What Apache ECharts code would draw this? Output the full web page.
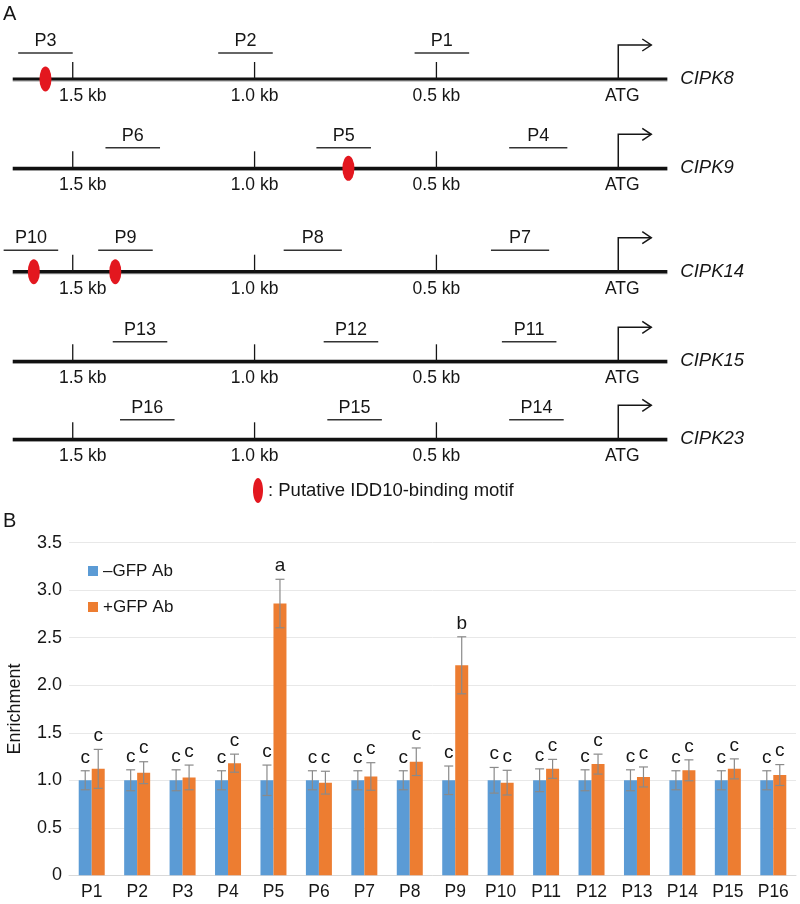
<!DOCTYPE html>
<html><head><meta charset="utf-8">
<script src="https://cdn.jsdelivr.net/npm/echarts@6/dist/echarts.min.js"></script>
<style>html,body{margin:0;padding:0;background:#fff}#chart{width:800px;height:904px}</style>
</head><body><div id="chart"></div>
<script>
// ---------- Panel A data (positions in kb upstream of ATG) ----------
const genes = ['CIPK8', 'CIPK9', 'CIPK14', 'CIPK15', 'CIPK23'];
const primerNames = [['P3','P2','P1'], ['P6','P5','P4'], ['P10','P9','P8','P7'], ['P13','P12','P11'], ['P16','P15','P14']];
const primerFrom = [[1.65,1.10,0.56], [1.41,0.83,0.30], [1.69,1.43,0.92,0.35], [1.39,0.81,0.32], [1.37,0.80,0.30]];
const primerTo   = [[1.50,0.95,0.41], [1.26,0.68,0.14], [1.54,1.28,0.76,0.19], [1.24,0.66,0.17], [1.22,0.65,0.15]];
const motifSites = [[1.575], [0.742], [1.607,1.383], [], []];
const promoterSpan = [1.665, -0.135];
const scaleTicks = [1.5, 1.0, 0.5];
const scaleLabels = ['1.5 kb', '1.0 kb', '0.5 kb'];
const atgPos = 0;
const atgLabel = 'ATG';
const motifLegend = ': Putative IDD10-binding motif';

// ---------- Panel B data ----------
const probes = ['P1','P2','P3','P4','P5','P6','P7','P8','P9','P10','P11','P12','P13','P14','P15','P16'];
const minusGFP = [1.00,1.00,1.00,1.00,1.00,1.00,1.00,1.00,1.00,1.00,1.00,1.00,1.00,1.00,1.00,1.00];
const minusErr = [0.10,0.11,0.11,0.10,0.16,0.10,0.10,0.10,0.15,0.135,0.12,0.11,0.11,0.10,0.10,0.10];
const plusGFP  = [1.12,1.08,1.03,1.18,2.86,0.975,1.04,1.195,2.21,0.975,1.12,1.17,1.035,1.105,1.12,1.055];
const plusErr  = [0.205,0.115,0.13,0.095,0.255,0.12,0.145,0.145,0.30,0.13,0.10,0.105,0.105,0.11,0.105,0.11];
const minusLetters = ['c','c','c','c','c','c','c','c','c','c','c','c','c','c','c','c'];
const plusLetters  = ['c','c','c','c','a','c','c','c','b','c','c','c','c','c','c','c'];
const seriesNames = ['\u2013GFP Ab', '+GFP Ab'];
const yTicks = { min: 0, max: 3.5, interval: 0.5 };

// ---------- layout / style ----------
const FONT = 'Liberation Sans, Arial, Helvetica, sans-serif';
const rowLineY = [79, 168.3, 271.7, 361.3, 439.3];
const primerLift = [26, 20.5, 21.5, 19.5, 19.5];
const tickLabelDx = [10, 0, 0];
const INK = '#161616';
const RED = '#e3171f';
const BLUE = '#5b9bd5';
const ORANGE = '#ed7d31';

const grids = [], xAxes = [], yAxes = [], series = [];

genes.forEach((g, r) => {
  grids.push({ left: 0, width: 691, top: rowLineY[r] - 10, height: 10, outerBoundsMode: 'none' });
  xAxes.push({ gridIndex: r, type: 'value', min: -0.2, max: 1.7, inverse: true, show: false });
  yAxes.push({ gridIndex: r, type: 'value', min: 0, max: 1, show: false });

  // promoter line, ATG arrow, gene name
  series.push({
    type: 'custom', xAxisIndex: r, yAxisIndex: r, clip: false, silent: true,
    data: [[promoterSpan[0], promoterSpan[1], atgPos]],
    encode: { x: [0, 1] },
    renderItem: (params, api) => {
      const a = api.coord([api.value(0), 0]);
      const b = api.coord([api.value(1), 0]);
      const t = api.coord([api.value(2), 0]);
      const top = t[1] - 34, tip = t[0] + 33;
      return { type: 'group', children: [
        { type: 'line', shape: { x1: a[0], y1: a[1] + 2, x2: b[0], y2: b[1] + 2 }, style: { stroke: '#9a9a9a', lineWidth: 1.2 } },
        { type: 'line', shape: { x1: a[0], y1: a[1], x2: b[0], y2: b[1] }, style: { stroke: '#111', lineWidth: 3.2 } },
        { type: 'polyline', shape: { points: [[t[0], t[1]], [t[0], top], [tip, top]] }, style: { stroke: INK, lineWidth: 1.5, fill: null } },
        { type: 'polyline', shape: { points: [[tip - 9, top - 6], [tip, top], [tip - 9, top + 6]] }, style: { stroke: INK, lineWidth: 1.5, fill: null } },
        { type: 'text', x: t[0] + 4, y: t[1] + 17, style: { text: atgLabel, font: '17.5px ' + FONT, fill: INK, align: 'center', verticalAlign: 'middle' } },
        { type: 'text', x: b[0] + 13, y: b[1], style: { text: g, font: 'italic 18.5px ' + FONT, fill: INK, align: 'left', verticalAlign: 'middle' } }
      ] };
    }
  });

  // scale ticks
  series.push({
    type: 'custom', xAxisIndex: r, yAxisIndex: r, clip: false, silent: true,
    data: scaleTicks.map(v => [v]),
    encode: { x: 0 },
    renderItem: (params, api) => {
      const p = api.coord([api.value(0), 0]);
      const k = params.dataIndex;
      return { type: 'group', children: [
        { type: 'line', shape: { x1: p[0], y1: p[1], x2: p[0], y2: p[1] - 17 }, style: { stroke: INK, lineWidth: 1.3 } },
        { type: 'text', x: p[0] + tickLabelDx[k], y: p[1] + 17, style: { text: scaleLabels[k], font: '17.5px ' + FONT, fill: INK, align: 'center', verticalAlign: 'middle' } }
      ] };
    }
  });

  // primers
  series.push({
    type: 'custom', xAxisIndex: r, yAxisIndex: r, clip: false, silent: true,
    data: primerFrom[r].map((f, k) => [f, primerTo[r][k]]),
    encode: { x: [0, 1] },
    renderItem: (params, api) => {
      const a = api.coord([api.value(0), 0]);
      const b = api.coord([api.value(1), 0]);
      const y = a[1] - primerLift[r];
      return { type: 'group', children: [
        { type: 'line', shape: { x1: a[0], y1: y, x2: b[0], y2: y }, style: { stroke: '#333', lineWidth: 1.4 } },
        { type: 'text', x: (a[0] + b[0]) / 2, y: y - 12, style: { text: primerNames[r][params.dataIndex], font: '18px ' + FONT, fill: INK, align: 'center', verticalAlign: 'middle' } }
      ] };
    }
  });

  // motifs
  series.push({
    type: 'scatter', xAxisIndex: r, yAxisIndex: r, clip: false, silent: true,
    symbol: 'circle', symbolSize: [12, 25], itemStyle: { color: RED, opacity: 1 }, z: 5,
    data: motifSites[r].map(v => [v, 0])
  });
});

// ---------- Panel B ----------
const B = genes.length;
grids.push({ left: 69, right: 4, top: 542.7, bottom: 28.7, containLabel: false, outerBoundsMode: 'none' });
xAxes.push({
  gridIndex: B, type: 'category', data: probes,
  axisLine: { lineStyle: { color: '#d9d9d9', width: 1 } }, axisTick: { show: false },
  axisLabel: { fontFamily: FONT, fontSize: 17.5, color: INK, margin: 8 }
});
yAxes.push({
  gridIndex: B, type: 'value', min: yTicks.min, max: yTicks.max, interval: yTicks.interval,
  name: 'Enrichment', nameLocation: 'middle', nameGap: 45, nameRotate: 90,
  nameTextStyle: { fontFamily: FONT, fontSize: 18, color: INK },
  axisLine: { show: false }, axisTick: { show: false },
  splitLine: { lineStyle: { color: '#e8e8e8', width: 1 } },
  axisLabel: { fontFamily: FONT, fontSize: 18, color: INK, margin: 7, formatter: v => v === 0 ? '0' : v.toFixed(1) }
});

series.push({ type: 'bar', name: seriesNames[0], xAxisIndex: B, yAxisIndex: B, data: minusGFP, barWidth: 13, barGap: '0%', itemStyle: { color: BLUE }, silent: true });
series.push({ type: 'bar', name: seriesNames[1], xAxisIndex: B, yAxisIndex: B, data: plusGFP, barWidth: 13, barGap: '0%', itemStyle: { color: ORANGE }, silent: true });

function errSeries(vals, errs, letters, offset) {
  return {
    type: 'custom', xAxisIndex: B, yAxisIndex: B, clip: false, silent: true, z: 10,
    data: vals.map((v, i) => [i, v, errs[i]]),
    encode: { x: 0, y: 1 },
    renderItem: (params, api) => {
      const i = api.value(0), v = api.value(1), e = api.value(2);
      const hi = api.coord([i, v + e]);
      const lo = api.coord([i, v - e]);
      const x = hi[0] + offset;
      const st = { stroke: '#8a8a8a', lineWidth: 1.2 };
      return { type: 'group', children: [
        { type: 'line', shape: { x1: x, y1: hi[1], x2: x, y2: lo[1] }, style: st },
        { type: 'line', shape: { x1: x - 4.5, y1: hi[1], x2: x + 4.5, y2: hi[1] }, style: st },
        { type: 'line', shape: { x1: x - 4.5, y1: lo[1], x2: x + 4.5, y2: lo[1] }, style: st },
        { type: 'text', x: x, y: hi[1] - 4, style: { text: letters[params.dataIndex], font: '19px ' + FONT, fill: INK, align: 'center', verticalAlign: 'bottom' } }
      ] };
    }
  };
}
series.push(errSeries(minusGFP, minusErr, minusLetters, -6.5));
series.push(errSeries(plusGFP, plusErr, plusLetters, 6.5));

const option = {
  animation: false,
  backgroundColor: '#fff',
  grid: grids, xAxis: xAxes, yAxis: yAxes, series: series,
  legend: {
    data: seriesNames, orient: 'vertical', left: 88, top: 561, padding: 0,
    icon: 'rect', itemWidth: 10, itemHeight: 10, itemGap: 16,
    textStyle: { fontFamily: FONT, fontSize: 17, color: INK, lineHeight: 20 }, selectedMode: false
  },
  graphic: [
    { type: 'text', left: 3, top: 4, style: { text: 'A', font: '20px ' + FONT, fill: INK } },
    { type: 'text', left: 3, top: 511, style: { text: 'B', font: '20px ' + FONT, fill: INK } },
    { type: 'ellipse', shape: { cx: 258, cy: 490.5, rx: 5, ry: 12.5 }, style: { fill: RED } },
    { type: 'text', x: 268, y: 490.5, style: { text: motifLegend, font: '18.5px ' + FONT, fill: INK, verticalAlign: 'middle' } }
  ]
};

const chart = echarts.init(document.getElementById('chart'), null, { renderer: 'canvas' });
chart.setOption(option);
</script>
</body></html>
